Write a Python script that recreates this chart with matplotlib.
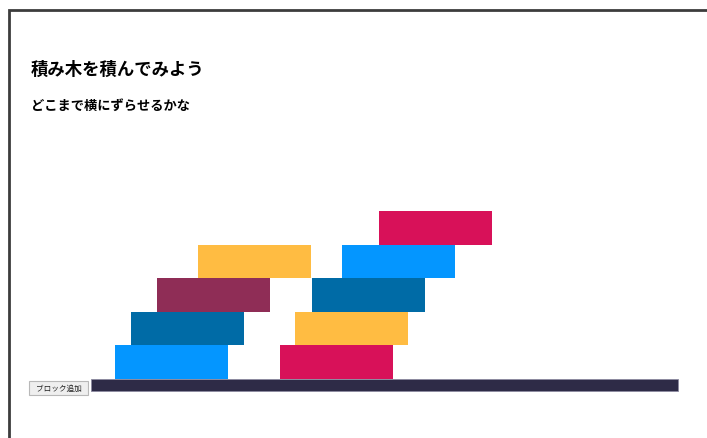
import matplotlib.pyplot as plt
from matplotlib.patches import Rectangle

plt.rcParams['font.family'] = ['Noto Sans CJK JP', 'DejaVu Sans']

# Block layout (canvas units, ground top = 0)
left_stack_x = [115, 131, 157, 198]
left_stack_colors = ['#0496FF', '#006BA6', '#8F2D56', '#FFBC42']
right_stack_x = [280, 295, 312, 342, 379]
right_stack_colors = ['#D81159', '#FFBC42', '#006BA6', '#0496FF', '#D81159']

title = '積み木を積んでみよう'
subtitle = 'どこまで横にずらせるかな'
button_label = 'ブロック追加'

block_w = 112.7
block_h = 33.6

fig = plt.figure(figsize=(7.07, 4.39), dpi=100)
ax = fig.add_axes([0, 0, 1, 1])
ax.set_xlim(0, 707)
ax.set_ylim(-59, 380)
ax.axis('off')

# ground
ax.bar(91, 11.7, width=587, bottom=-11.7, align='edge',
       color='#2E2B47', edgecolor='#8C8AA0', linewidth=0.6)

# stacks
for xs, cols in [(left_stack_x, left_stack_colors), (right_stack_x, right_stack_colors)]:
    levels = [i * block_h for i in range(len(xs))]
    ax.bar(xs, [block_h] * len(xs), width=block_w, bottom=levels, align='edge',
           color=cols, linewidth=0)

# frame
ax.plot([8.5, 8.5, 707], [-59, 369, 369], color='#3C3C3C', linewidth=2.0,
        solid_joinstyle='miter')

ax.text(31, 310, title, fontsize=12.5, fontweight='bold', va='center', ha='left')
ax.text(31, 274, subtitle, fontsize=9.5, fontweight='bold', va='center', ha='left')

# button
ax.add_patch(Rectangle((29, -16), 59, 14, facecolor='#EFEFEF',
                       edgecolor='#B8B8B8', linewidth=0.8))
ax.text(58.5, -9, button_label, fontsize=5.5, ha='center', va='center', color='#222222')

fig.savefig('out.png', dpi=100)
